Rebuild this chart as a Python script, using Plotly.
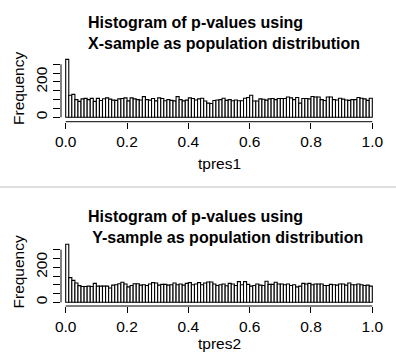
import numpy as np
import plotly.graph_objects as go

# ---- data ----
bin_edges = np.linspace(0.0, 1.0, 101)
tpres1_counts = [
    328, 125, 130, 100, 90, 104, 107, 100, 107, 90,
    107, 95, 105, 110, 103, 97, 96, 104, 106, 110,
    93, 110, 104, 100, 98, 117, 100, 97, 106, 93,
    110, 106, 94, 100, 96, 93, 117, 100, 93, 97,
    110, 106, 98, 104, 108, 92, 80, 78, 95, 98,
    100, 108, 96, 100, 94, 98, 94, 94, 108, 112,
    125, 92, 92, 104, 102, 97, 104, 106, 100, 106,
    106, 106, 115, 110, 100, 112, 80, 106, 106, 104,
    118, 115, 115, 100, 95, 115, 115, 100, 98, 108,
    103, 98, 96, 100, 100, 112, 108, 104, 96, 108,
]
tpres2_counts = [
    331, 141, 125, 110, 95, 90, 90, 92, 90, 108,
    92, 92, 92, 92, 82, 98, 100, 106, 114, 104,
    88, 96, 106, 106, 98, 100, 96, 104, 112, 110,
    98, 102, 102, 98, 100, 110, 100, 104, 98, 108,
    112, 100, 104, 112, 100, 110, 116, 116, 104, 96,
    100, 104, 94, 108, 104, 96, 118, 100, 118, 102,
    92, 96, 104, 98, 96, 120, 102, 102, 114, 104,
    104, 100, 104, 96, 100, 88, 92, 108, 104, 108,
    100, 104, 104, 104, 96, 96, 102, 100, 98, 104,
    104, 98, 110, 100, 100, 104, 100, 96, 98, 92,
]
x_tick_vals = [0.0, 0.2, 0.4, 0.6, 0.8, 1.0]
x_tick_text = ["0.0", "0.2", "0.4", "0.6", "0.8", "1.0"]
y_tick_vals = [0, 50, 100, 150, 200, 250, 300]
y_tick_text = ["0", "", "", "", "200", "", ""]
titles = ["Histogram of p-values using\nX-sample as population distribution",
          "Histogram of p-values using\n Y-sample as population distribution"]
x_labels = ["tpres1", "tpres2"]
y_label = "Frequency"

W, H = 396, 363
FONT = "Liberation Sans, Arial, sans-serif"
FS = 15.5

def px(p):
    return p / W

def py(p):
    return 1 - p / H

centers = (bin_edges[:-1] + bin_edges[1:]) / 2
widths = np.diff(bin_edges)

fig = go.Figure()

panels = [
    dict(counts=tpres1_counts, xa="x", ya="y", zero=117.3, ppu=0.1767, bottom=121.7, top=50,
         title_y=33, xlab_y=163, ylab_y=89),
    dict(counts=tpres2_counts, xa="x2", ya="y2", zero=302.3, ppu=0.1753, bottom=306.0, top=235,
         title_y=227, xlab_y=343.5, ylab_y=272.5),
]

x0_px, x1_px = 65.7, 372.3
scale_x = x1_px - x0_px
dom_l, dom_r = 61, 377
x_range = [(dom_l - x0_px) / scale_x, (dom_r - x0_px) / scale_x]

shapes = []
annotations = []
for i, p in enumerate(panels):
    fig.add_trace(go.Bar(
        x=centers, y=p["counts"], width=widths,
        marker=dict(color="white", line=dict(color="black", width=1.1)),
        xaxis=p["xa"], yaxis=p["ya"], showlegend=False, hoverinfo="skip",
    ))
    y_range = [(p["zero"] - p["bottom"]) / p["ppu"], (p["zero"] - p["top"]) / p["ppu"]]
    suffix = "" if i == 0 else "2"
    fig.update_layout(**{
        "xaxis" + suffix: dict(
            domain=[px(dom_l), px(dom_r)], range=x_range, anchor="y" + suffix,
            showgrid=False, zeroline=False, showline=False, automargin=False,
            tickmode="array", tickvals=x_tick_vals, ticktext=x_tick_text,
            ticks="outside", ticklen=6, tickwidth=1, tickcolor="black",
            tickfont=dict(family=FONT, size=FS, color="black"),
        ),
        "yaxis" + suffix: dict(
            domain=[py(p["bottom"]), py(p["top"])], range=y_range, anchor="x" + suffix,
            showgrid=False, zeroline=False, showline=False, automargin=False,
            tickmode="array", tickvals=y_tick_vals, ticktext=y_tick_text,
            ticks="outside", ticklen=7, tickwidth=1, tickcolor="black", tickangle=-90,
            tickfont=dict(family=FONT, size=FS, color="black"),
        ),
    })
    shapes.append(dict(type="line", xref="paper", yref=p["ya"], x0=px(dom_l), x1=px(dom_l),
                       y0=0, y1=300, line=dict(color="black", width=1)))
    shapes.append(dict(type="line", xref=p["xa"], yref="paper", x0=0, x1=1,
                       y0=py(p["bottom"]), y1=py(p["bottom"]), line=dict(color="black", width=1)))
    annotations.append(dict(text=titles[i].replace("\n", "<br>"), xref="paper", yref="paper",
                            x=px(85.5), y=py(p["title_y"]), xanchor="left", yanchor="middle",
                            align="left", showarrow=False,
                            font=dict(family=FONT, size=16, color="black", weight="bold")))
    annotations.append(dict(text=x_labels[i], xref=p["xa"], yref="paper", x=0.5,
                            y=py(p["xlab_y"]), xanchor="center", yanchor="middle",
                            showarrow=False, font=dict(family=FONT, size=FS, color="black")))
    annotations.append(dict(text=y_label, xref="paper", yref="paper", x=px(18),
                            y=py(p["ylab_y"]), xanchor="center", yanchor="middle", textangle=-90,
                            showarrow=False, font=dict(family=FONT, size=FS, color="black")))

shapes.append(dict(type="line", xref="paper", yref="paper", x0=0, x1=1,
                   y0=py(187), y1=py(187), line=dict(color="#d4d4d4", width=1.5)))

fig.update_layout(
    template="none",
    width=W, height=H, margin=dict(l=0, r=0, t=0, b=0, autoexpand=False),
    paper_bgcolor="white", plot_bgcolor="white",
    bargap=0, shapes=shapes, annotations=annotations,
)

fig.write_html("out.html",
               config={"displayModeBar": False, "staticPlot": True},
               post_script="document.body.style.margin='0';document.body.style.overflow='hidden';")
